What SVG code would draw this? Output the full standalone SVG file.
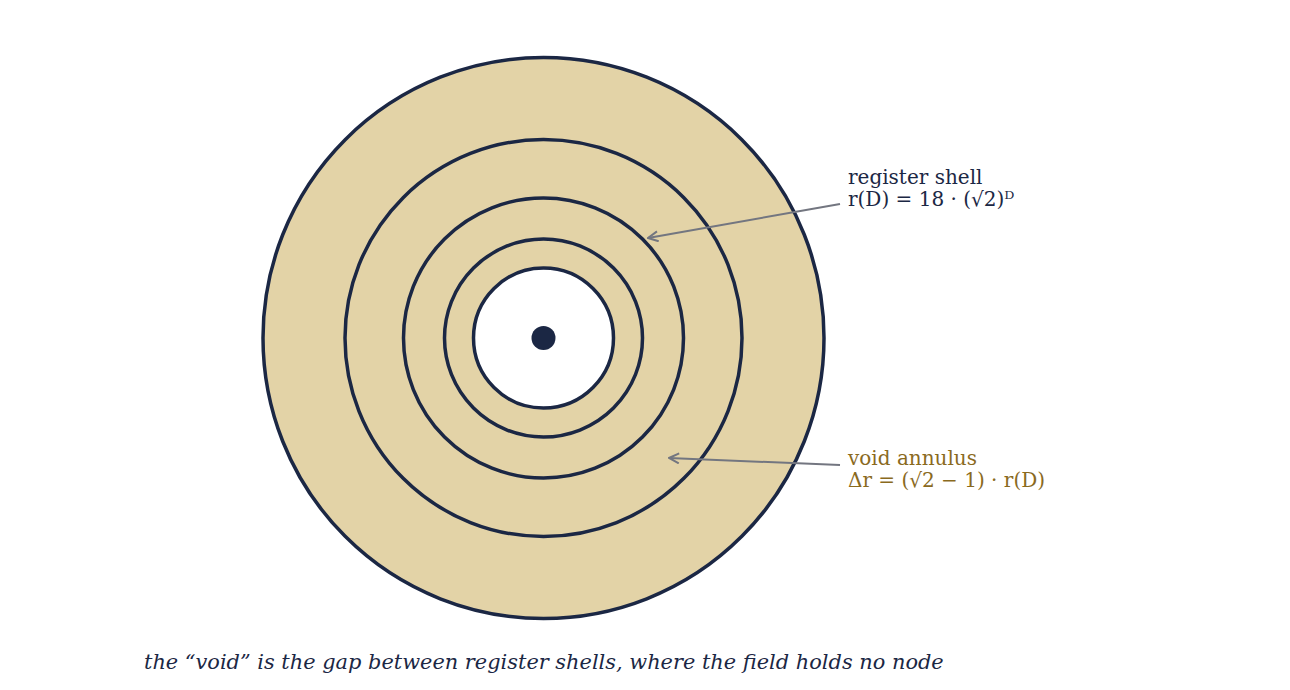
<svg xmlns="http://www.w3.org/2000/svg" width="1290" height="690" viewBox="0 0 1290 690">
<defs>
<style>
.ring{fill:#e3d3a7;stroke:#1b2744;stroke-width:3.5}
.lbl{font-family:"DejaVu Serif",serif;font-size:20px}
.cap{font-family:"DejaVu Serif",serif;font-size:20.9px;font-style:italic}
.navy{fill:#1b2744}
.gold{fill:#8a6a1e}
.lead{fill:none;stroke:#737680;stroke-width:2}
</style>
<marker id="ah" viewBox="0 0 12 12" refX="11" refY="6" markerWidth="12" markerHeight="12" markerUnits="userSpaceOnUse" orient="auto">
<path d="M1,1 L11,6 L1,11" fill="none" stroke="#737680" stroke-width="2"/>
</marker>
</defs>
<rect width="1290" height="690" fill="#fff"/>
<g id="shell4"><circle class="ring" cx="543.5" cy="338" r="280.5"/></g>
<g id="shell3"><circle class="ring" cx="543.5" cy="338" r="198.5"/></g>
<g id="shell2"><circle class="ring" cx="543.5" cy="338" r="140"/></g>
<g id="shell1"><circle class="ring" cx="543.5" cy="338" r="99"/></g>
<g id="core"><circle cx="543.5" cy="338" r="70" fill="#fff" stroke="#1b2744" stroke-width="3.5"/><circle cx="543.5" cy="338" r="12" fill="#1b2744"/></g>
<g id="connectors">
<line class="lead" x1="840" y1="204" x2="648" y2="238" marker-end="url(#ah)"/>
<line class="lead" x1="840" y1="465" x2="669" y2="458" marker-end="url(#ah)"/>
</g>
<g id="label-register">
<text class="lbl navy" x="848" y="184">register shell</text>
<text class="lbl navy" x="848" y="206">r(D) = 18 · (√2)ᴰ</text>
</g>
<g id="label-void">
<text class="lbl gold" x="848" y="465">void annulus</text>
<text class="lbl gold" x="848" y="487">Δr = (√2 − 1) · r(D)</text>
</g>
<g id="caption">
<text class="cap navy" x="144" y="669">the “void” is the gap between register shells, where the field holds no node</text>
</g>
</svg>
